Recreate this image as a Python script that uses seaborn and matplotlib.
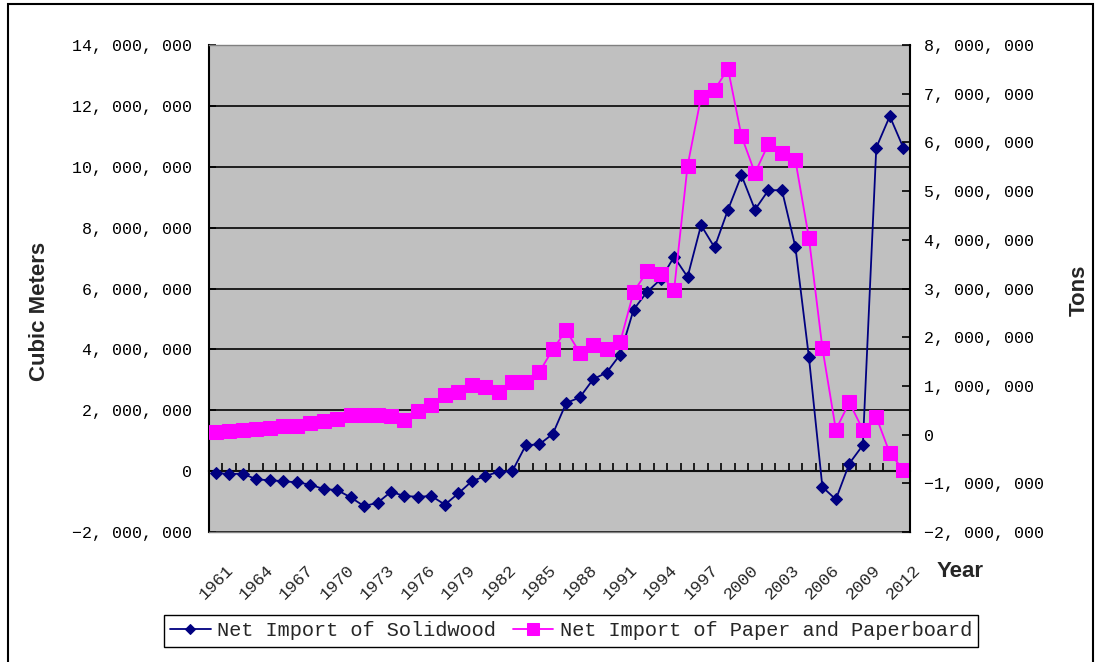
import numpy as np
import pandas as pd
import seaborn as sns
import matplotlib.pyplot as plt
from matplotlib.patches import Rectangle
from matplotlib.ticker import FuncFormatter, MultipleLocator

# Dados (milhões)
years = list(range(1961, 2013))

solidwood_m = [
    -0.05, -0.10, -0.08, -0.27, -0.30, -0.33, -0.37, -0.44, -0.59, -0.62,
    -0.86, -1.15, -1.04, -0.68, -0.82, -0.84, -0.82, -1.10, -0.73, -0.33,
    -0.16, -0.02, 0.00, 0.85, 0.88, 1.22, 2.24, 2.42, 3.02, 3.24,
    3.83, 5.31, 5.89, 6.30, 7.04, 6.38, 8.08, 7.35, 8.59, 9.72,
    8.59, 9.23, 9.23, 7.36, 3.75, -0.52, -0.93, 0.25, 0.85, 10.63,
    11.66, 10.63,
]

paper_m = [
    0.05, 0.07, 0.10, 0.12, 0.14, 0.17, 0.17, 0.24, 0.27, 0.32,
    0.41, 0.41, 0.41, 0.38, 0.31, 0.48, 0.60, 0.82, 0.88, 1.02,
    0.98, 0.87, 1.07, 1.07, 1.28, 1.75, 2.14, 1.68, 1.83, 1.76,
    1.90, 2.93, 3.35, 3.29, 2.97, 5.52, 6.93, 7.08, 7.51, 6.13,
    5.37, 5.97, 5.78, 5.63, 4.04, 1.78, 0.10, 0.66, 0.10, 0.36,
    -0.38, -0.72,
]

label_solid = "Net Import of Solidwood"
label_paper = "Net Import of Paper and Paperboard"

df = pd.DataFrame({
    "year": years,
    "pos": np.arange(len(years)),
    "solidwood": np.array(solidwood_m) * 1e6,
    "paper": np.array(paper_m) * 1e6,
})

sns.set_theme(style="white")
plt.rcParams["font.family"] = ["Liberation Mono", "DejaVu Sans"]

NAVY = "#000080"
MAGENTA = "#FF00FF"


def fmt_num(v, _pos):
    s = f"{abs(v):,.0f}".replace(",", ", ")
    return ("\u2212" + s) if v < 0 else s


fig = plt.figure(figsize=(11.01, 6.62), dpi=100)
ax = fig.add_axes([209 / 1101, 130 / 662, 701 / 1101, 487 / 662])
ax.set_facecolor("#C0C0C0")

# Série 1: eixo esquerdo
sns.lineplot(data=df, x="pos", y="solidwood", ax=ax, color=NAVY, marker="D",
             markersize=6, markeredgecolor=NAVY, linewidth=1.3,
             label=label_solid, sort=False)

ax.set_xlim(-0.5, len(years) - 0.5)
ax.set_ylim(-2e6, 14e6)
ax.yaxis.set_major_locator(MultipleLocator(2e6))
ax.yaxis.set_major_formatter(FuncFormatter(fmt_num))
ax.tick_params(axis="y", direction="in", length=5, width=1.2, pad=12,
               labelsize=12, colors="black")
ax.set_xticks(df["pos"][::3])
ax.set_xticklabels(df["year"][::3], rotation=45, ha="center", va="top")
ax.tick_params(axis="x", length=0, pad=22, labelsize=12.5)

ax.set_axisbelow(True)
ax.yaxis.grid(True, color="#111111", linewidth=1.3)
gl = ax.yaxis.get_gridlines()
gl[0].set_visible(False)
gl[-1].set_visible(False)

for side in ["top", "bottom"]:
    ax.spines[side].set_color("#808080")
    ax.spines[side].set_linewidth(1.0)
ax.spines["left"].set_color("black")
ax.spines["left"].set_linewidth(1.5)
ax.spines["right"].set_visible(False)

# Linha do zero com marcas de categoria (apontando para cima)
sec = ax.secondary_xaxis(0.125)
sec.set_xticks(np.arange(-0.5, len(years), 1))
sec.tick_params(direction="in", length=6, width=1.2, labelbottom=False,
                labeltop=False, colors="black")
for side in ["top", "bottom"]:
    sec.spines[side].set_linewidth(1.5)
    sec.spines[side].set_color("black")

ax.set_ylabel("Cubic Meters", fontsize=16, fontweight="bold",
              family="Liberation Sans")
ax.yaxis.set_label_coords(-0.2265, 0.452)
ax.set_xlabel("Year", fontsize=16, fontweight="bold", family="Liberation Sans",
              ha="left", va="center")
ax.xaxis.set_label_coords(1.0385, -0.082)

# Série 2: eixo direito
ax2 = ax.twinx()
ax2.patch.set_visible(False)
sns.lineplot(data=df, x="pos", y="paper", ax=ax2, color=MAGENTA, marker="s",
             markersize=10.5, markeredgecolor=MAGENTA, linewidth=1.3,
             label=label_paper, sort=False)
ax2.set_xlim(-0.5, len(years) - 0.5)
ax2.set_ylim(-2e6, 8e6)
ax2.yaxis.set_major_locator(MultipleLocator(1e6))
ax2.yaxis.set_major_formatter(FuncFormatter(fmt_num))
ax2.tick_params(axis="y", direction="in", length=6, width=1.2, pad=10,
                labelsize=12, colors="black")
for side in ["top", "bottom", "left"]:
    ax2.spines[side].set_visible(False)
ax2.spines["right"].set_color("black")
ax2.spines["right"].set_linewidth(1.5)
ax2.set_ylabel("Tons", fontsize=16, fontweight="bold", family="Liberation Sans")
ax2.yaxis.set_label_coords(1.2268, 0.497)

# Legenda combinada
h1, l1 = ax.get_legend_handles_labels()
h2, l2 = ax2.get_legend_handles_labels()
ax.get_legend().remove()
ax2.get_legend().remove()
leg = fig.legend(h1 + h2, l1 + l2, loc="center", ncol=2,
                 bbox_to_anchor=(571 / 1101, 1 - 631 / 662),
                 fontsize=14.6, frameon=True, fancybox=False, shadow=False,
                 framealpha=1, edgecolor="black", borderpad=0.3,
                 handlelength=2.0, handletextpad=0.3, columnspacing=0.85,
                 markerscale=0.8, borderaxespad=0.3)
leg.get_frame().set_linewidth(1.0)

# Moldura externa do gráfico
fig.patches.append(Rectangle((8 / 1101, -0.05), (1093 - 8) / 1101, 1.05 - 4 / 662,
                             transform=fig.transFigure, fill=False,
                             edgecolor="black", linewidth=1.5))

fig.savefig("out.png", dpi=100)
